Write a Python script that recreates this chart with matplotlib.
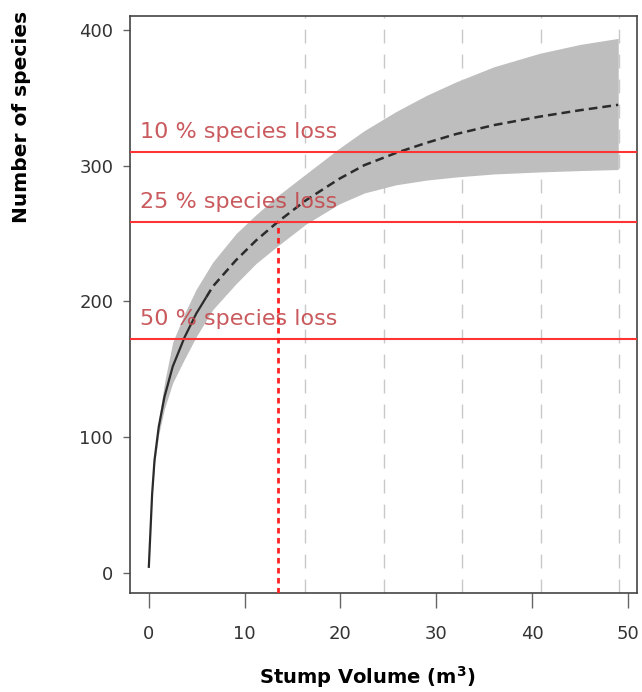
import numpy as np
import matplotlib.pyplot as plt

plt.rcParams['font.family'] = ['DejaVu Sans']

# expected richness curve (stump volume vs species) with confidence band
vol = [0, 0.35, 0.6, 1.04, 1.64, 2.5, 3.73, 4.95, 6.68, 9.1, 11.2, 13.47,
       16.4, 19.9, 22.5, 25.8, 29.0, 32.1, 36.0, 40.8, 45.0, 49.0]
richness = [3.5, 58, 83, 107.6, 129.7, 152, 173.5, 191, 211, 230.4, 245, 258.7,
            274.6, 290.5, 300.5, 309.5, 317, 323.5, 330, 336.3, 341, 345]
rich_hi = [3.5, 59, 86, 113, 140, 170, 191, 209, 229, 250, 264, 278,
           294, 313, 326, 340, 352, 362, 373, 383, 389.5, 394]
rich_lo = [3.5, 57, 80, 102, 121, 140, 157.5, 174, 194, 213, 228, 241,
           257, 272, 280, 286, 289.5, 291.8, 294, 295.5, 296.5, 297.3]

# end of the interpolated (solid) part
obs_end = 6.0
# asymptote and loss thresholds
asymptote = 345
losses = [10, 25, 50]
# volume where 25 % loss is reached
vol_25 = 13.5
# multiples of the reference sample size
ref_lines = [16.35, 24.5, 32.7, 40.9, 49.05]

fig = plt.figure(figsize=(6.42, 6.92), dpi=100)
ax = fig.add_axes([130/642, 1-593/692, 507/642, 577/692])

for xv in ref_lines:
    ax.axvline(xv, color='#c8c8c8', lw=1, linestyle=(0, (10, 8)), zorder=1)

ax.fill_between(vol, rich_lo, rich_hi, color='#bebebe', lw=0, zorder=2)

vol = np.array(vol)
richness = np.array(richness)
m = vol <= obs_end
xs = np.concatenate([vol[m], [obs_end]])
ax.plot(xs, np.interp(xs, vol, richness), color='#2b2b2b', lw=1.6,
        solid_capstyle='butt', zorder=3)
xi = np.concatenate([[obs_end], vol[~m]])
ax.plot(xi, np.interp(xi, vol, richness), color='#2b2b2b', lw=1.8,
        linestyle=(0, (3.5, 2)), zorder=3)

for p in losses:
    yv = asymptote * (1 - p / 100)
    ax.axhline(yv, color='#ff3333', lw=1.5, zorder=4)
    ax.text(-0.9, yv + 7, '%d %% species loss' % p, color='#c4484c', fontsize=16,
            ha='left', va='bottom', zorder=5, alpha=0.9)

ax.plot([vol_25, vol_25], [-15, asymptote * 0.75], color='#ff2222', lw=2,
        linestyle=(0, (2, 1.6)), zorder=4)

ax.set_xlim(-1.96, 50.96)
ax.set_ylim(-15, 410.5)
ax.set_xticks([0, 10, 20, 30, 40, 50])
ax.set_yticks([0, 100, 200, 300, 400])
ax.tick_params(axis='x', length=11, width=1, color='#666666', pad=12,
               labelsize=13, labelcolor='#333333')
ax.tick_params(axis='y', length=5, width=1, color='#666666', pad=7,
               labelsize=13, labelcolor='#333333')
for s in ax.spines.values():
    s.set_color('#444444')
    s.set_linewidth(1.2)

fig.text(22/642, 1-117/692, 'Number of species', rotation=90, ha='center',
         va='center', fontsize=14.5, fontweight='bold')
fig.text(367/642, 1-690/692, 'Stump Volume (m$^\\mathbf{3}$)', ha='center',
         va='bottom', fontsize=14, fontweight='bold')

fig.savefig('out.png', dpi=100)
